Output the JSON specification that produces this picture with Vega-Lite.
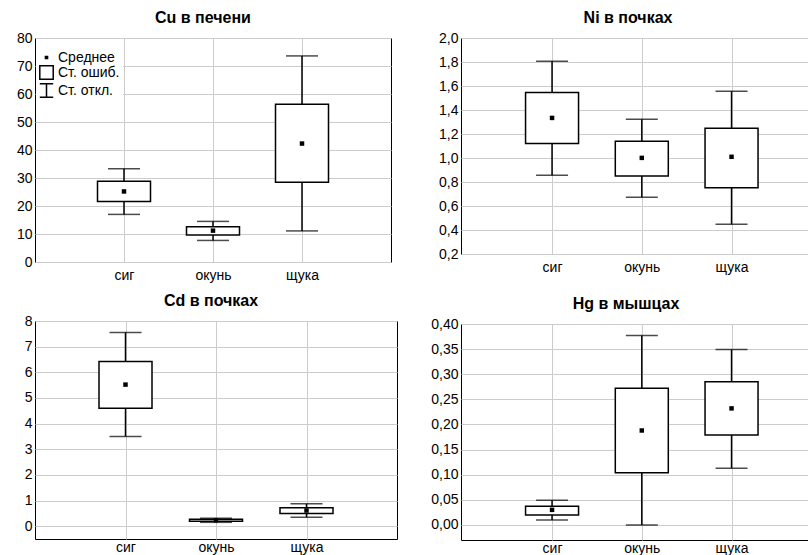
{
  "$schema": "https://vega.github.io/schema/vega-lite/v6.json",
  "padding": {"left": 15, "top": 9, "right": 0, "bottom": 0},
  "background": "white",
  "datasets": {
    "cu": [
      {"fish": "сиг", "mean": 25.2, "se_lo": 21.6, "se_hi": 28.8, "sd_lo": 17.0, "sd_hi": 33.3},
      {"fish": "окунь", "mean": 11.2, "se_lo": 9.6, "se_hi": 12.6, "sd_lo": 7.7, "sd_hi": 14.5},
      {"fish": "щука", "mean": 42.3, "se_lo": 28.5, "se_hi": 56.3, "sd_lo": 11.1, "sd_hi": 73.6}
    ],
    "ni": [
      {"fish": "сиг", "mean": 1.334, "se_lo": 1.121, "se_hi": 1.545, "sd_lo": 0.857, "sd_hi": 1.806},
      {"fish": "окунь", "mean": 1.001, "se_lo": 0.851, "se_hi": 1.14, "sd_lo": 0.672, "sd_hi": 1.323},
      {"fish": "щука", "mean": 1.01, "se_lo": 0.752, "se_hi": 1.248, "sd_lo": 0.447, "sd_hi": 1.556}
    ],
    "cd": [
      {"fish": "сиг", "mean": 5.52, "se_lo": 4.6, "se_hi": 6.42, "sd_lo": 3.5, "sd_hi": 7.55},
      {"fish": "окунь", "mean": 0.23, "se_lo": 0.19, "se_hi": 0.27, "sd_lo": 0.15, "sd_hi": 0.31},
      {"fish": "щука", "mean": 0.61, "se_lo": 0.49, "se_hi": 0.72, "sd_lo": 0.35, "sd_hi": 0.87}
    ],
    "hg": [
      {"fish": "сиг", "mean": 0.03, "se_lo": 0.02, "se_hi": 0.037, "sd_lo": 0.01, "sd_hi": 0.049},
      {"fish": "окунь", "mean": 0.188, "se_lo": 0.104, "se_hi": 0.272, "sd_lo": 0.0, "sd_hi": 0.377},
      {"fish": "щука", "mean": 0.232, "se_lo": 0.179, "se_hi": 0.285, "sd_lo": 0.113, "sd_hi": 0.349}
    ],
    "legend": [
      {"stat": "Среднее"},
      {"stat": "Ст. ошиб."},
      {"stat": "Ст. откл."}
    ]
  },
  "resolve": {"scale": {"shape": "independent", "fill": "independent", "stroke": "independent"}, "legend": {"shape": "independent", "fill": "independent", "stroke": "independent"}},
  "spacing": 32,
  "hconcat": [
    {
      "spacing": 9,
      "resolve": {"scale": {"shape": "independent", "fill": "independent", "stroke": "independent"}, "legend": {"shape": "independent", "fill": "independent", "stroke": "independent"}},
      "vconcat": [
        {
          "title": {"text": "Cu в печени", "dx": -10},
          "width": 356,
          "height": 224,
          "data": {"name": "cu"},
          "encoding": {
            "x": {"field": "fish", "type": "nominal", "title": null,
                  "scale": {"type": "point", "domain": ["сиг", "окунь", "щука"], "padding": 1},
                  "axis": {"labelPadding": 6, "labelAngle": 0}}
          },
          "layer": [
            {"mark": {"type": "rule", "color": "black", "strokeWidth": 1.5},
             "encoding": {"y": {"field": "sd_lo", "type": "quantitative", "title": null,
                                "scale": {"domain": [0, 80], "nice": false, "zero": false},
                                "axis": {"values": [0, 10, 20, 30, 40, 50, 60, 70, 80], "labelOverlap": false}},
                          "y2": {"field": "sd_hi"}}},
            {"mark": {"type": "tick", "color": "black", "size": 32, "thickness": 1.5},
             "encoding": {"y": {"field": "sd_lo", "type": "quantitative", "title": null, "scale": {"domain": [0, 80], "nice": false, "zero": false},
                                "axis": {"values": [0, 10, 20, 30, 40, 50, 60, 70, 80], "labelOverlap": false}}}},
            {"mark": {"type": "tick", "color": "black", "size": 32, "thickness": 1.5},
             "encoding": {"y": {"field": "sd_hi", "type": "quantitative", "title": null, "scale": {"domain": [0, 80], "nice": false, "zero": false},
                                "axis": {"values": [0, 10, 20, 30, 40, 50, 60, 70, 80], "labelOverlap": false}}}},
            {"mark": {"type": "bar", "width": 53, "fill": "white", "stroke": "black", "strokeWidth": 1.5},
             "encoding": {"y": {"field": "se_lo", "type": "quantitative", "title": null, "scale": {"domain": [0, 80], "nice": false, "zero": false},
                                "axis": {"values": [0, 10, 20, 30, 40, 50, 60, 70, 80], "labelOverlap": false}},
                          "y2": {"field": "se_hi"}}},
            {"mark": {"type": "square", "size": 20, "color": "black", "opacity": 1},
             "encoding": {"y": {"field": "mean", "type": "quantitative", "title": null, "scale": {"domain": [0, 80], "nice": false, "zero": false},
                                "axis": {"values": [0, 10, 20, 30, 40, 50, 60, 70, 80], "labelOverlap": false}}}},
            {"data": {"name": "legend"},
             "mark": {"type": "point", "opacity": 0, "filled": false, "strokeWidth": 1.5},
             "encoding": {
               "x": {"value": 0},
               "y": {"value": 0},
               "shape": {"field": "stat", "type": "nominal",
                         "scale": {"domain": ["Среднее", "Ст. ошиб.", "Ст. откл."],
                                   "range": ["M-0.16,-0.16H0.16V0.16H-0.16Z", "M-1,-1H1V1H-1Z", "M-1,-1H1M0,-1V1M-1,1H1"]},
                         "legend": {"title": null, "orient": "none", "legendX": 1, "legendY": 9, "padding": 3,
                                    "fillColor": "white", "symbolSize": 180, "symbolStrokeWidth": 1.5, "symbolOpacity": 1,
                                    "labelFontSize": 14, "labelFont": "Liberation Sans", "labelColor": "black",
                                    "labelOffset": 4, "rowPadding": -3}},
               "fill": {"field": "stat", "type": "nominal",
                        "scale": {"domain": ["Среднее", "Ст. ошиб.", "Ст. откл."], "range": ["black", "white", "white"]},
                        "legend": {"title": null, "orient": "none", "legendX": 1, "legendY": 9, "padding": 3,
                                   "fillColor": "white", "symbolSize": 180, "symbolStrokeWidth": 1.5, "symbolOpacity": 1,
                                   "labelFontSize": 14, "labelFont": "Liberation Sans", "labelColor": "black",
                                   "labelOffset": 4, "rowPadding": -3}},
               "stroke": {"field": "stat", "type": "nominal",
                          "scale": {"domain": ["Среднее", "Ст. ошиб.", "Ст. откл."], "range": ["black", "black", "black"]},
                          "legend": {"title": null, "orient": "none", "legendX": 1, "legendY": 9, "padding": 3,
                                     "fillColor": "white", "symbolSize": 180, "symbolStrokeWidth": 1.5, "symbolOpacity": 1,
                                     "labelFontSize": 14, "labelFont": "Liberation Sans", "labelColor": "black",
                                     "labelOffset": 4, "rowPadding": -3}}
             }}
          ]
        },
        {
          "title": {"text": "Cd в почках", "dx": -5},
          "width": 362,
          "height": 218,
          "data": {"name": "cd"},
          "encoding": {
            "x": {"field": "fish", "type": "nominal", "title": null,
                  "scale": {"type": "point", "domain": ["сиг", "окунь", "щука"], "padding": 1},
                  "axis": {"labelPadding": 1.5, "labelAngle": 0}}
          },
          "layer": [
            {"mark": {"type": "rule", "color": "black", "strokeWidth": 1.5},
             "encoding": {"y": {"field": "sd_lo", "type": "quantitative", "title": null,
                                "scale": {"domain": [-0.5, 8], "nice": false, "zero": false},
                                "axis": {"values": [0, 1, 2, 3, 4, 5, 6, 7, 8], "labelOverlap": false}},
                          "y2": {"field": "sd_hi"}}},
            {"mark": {"type": "tick", "color": "black", "size": 32, "thickness": 1.5},
             "encoding": {"y": {"field": "sd_lo", "type": "quantitative", "title": null, "scale": {"domain": [-0.5, 8], "nice": false, "zero": false},
                                "axis": {"values": [0, 1, 2, 3, 4, 5, 6, 7, 8], "labelOverlap": false}}}},
            {"mark": {"type": "tick", "color": "black", "size": 32, "thickness": 1.5},
             "encoding": {"y": {"field": "sd_hi", "type": "quantitative", "title": null, "scale": {"domain": [-0.5, 8], "nice": false, "zero": false},
                                "axis": {"values": [0, 1, 2, 3, 4, 5, 6, 7, 8], "labelOverlap": false}}}},
            {"mark": {"type": "bar", "width": 53, "fill": "white", "stroke": "black", "strokeWidth": 1.5},
             "encoding": {"y": {"field": "se_lo", "type": "quantitative", "title": null, "scale": {"domain": [-0.5, 8], "nice": false, "zero": false},
                                "axis": {"values": [0, 1, 2, 3, 4, 5, 6, 7, 8], "labelOverlap": false}},
                          "y2": {"field": "se_hi"}}},
            {"mark": {"type": "square", "size": 20, "color": "black", "opacity": 1},
             "encoding": {"y": {"field": "mean", "type": "quantitative", "title": null, "scale": {"domain": [-0.5, 8], "nice": false, "zero": false},
                                "axis": {"values": [0, 1, 2, 3, 4, 5, 6, 7, 8], "labelOverlap": false}}}}
          ]
        }
      ]
    },
    {
      "spacing": 20,
      "vconcat": [
        {
          "title": {"text": "Ni в почках", "dx": -8},
          "width": 350,
          "height": 216,
          "data": {"name": "ni"},
          "encoding": {
            "x": {"field": "fish", "type": "nominal", "title": null,
                  "scale": {"type": "point", "domain": ["сиг", "окунь", "щука"], "padding": 0.95, "align": 0.534},
                  "axis": {"labelPadding": 6, "labelAngle": 0}}
          },
          "layer": [
            {"mark": {"type": "rule", "color": "black", "strokeWidth": 1.5},
             "encoding": {"y": {"field": "sd_lo", "type": "quantitative", "title": null,
                                "scale": {"domain": [0.2, 2.0], "nice": false, "zero": false},
                                "axis": {"values": [0.2, 0.4, 0.6, 0.8, 1.0, 1.2, 1.4, 1.6, 1.8, 2.0], "labelOverlap": false,
                                         "labelExpr": "replace(format(datum.value, '.1f'), '.', ',')"}},
                          "y2": {"field": "sd_hi"}}},
            {"mark": {"type": "tick", "color": "black", "size": 32, "thickness": 1.5},
             "encoding": {"y": {"field": "sd_lo", "type": "quantitative", "title": null, "scale": {"domain": [0.2, 2.0], "nice": false, "zero": false},
                                "axis": {"values": [0.2, 0.4, 0.6, 0.8, 1.0, 1.2, 1.4, 1.6, 1.8, 2.0], "labelOverlap": false,
                                         "labelExpr": "replace(format(datum.value, '.1f'), '.', ',')"}}}},
            {"mark": {"type": "tick", "color": "black", "size": 32, "thickness": 1.5},
             "encoding": {"y": {"field": "sd_hi", "type": "quantitative", "title": null, "scale": {"domain": [0.2, 2.0], "nice": false, "zero": false},
                                "axis": {"values": [0.2, 0.4, 0.6, 0.8, 1.0, 1.2, 1.4, 1.6, 1.8, 2.0], "labelOverlap": false,
                                         "labelExpr": "replace(format(datum.value, '.1f'), '.', ',')"}}}},
            {"mark": {"type": "bar", "width": 53, "fill": "white", "stroke": "black", "strokeWidth": 1.5},
             "encoding": {"y": {"field": "se_lo", "type": "quantitative", "title": null, "scale": {"domain": [0.2, 2.0], "nice": false, "zero": false},
                                "axis": {"values": [0.2, 0.4, 0.6, 0.8, 1.0, 1.2, 1.4, 1.6, 1.8, 2.0], "labelOverlap": false,
                                         "labelExpr": "replace(format(datum.value, '.1f'), '.', ',')"}},
                          "y2": {"field": "se_hi"}}},
            {"mark": {"type": "square", "size": 20, "color": "black", "opacity": 1},
             "encoding": {"y": {"field": "mean", "type": "quantitative", "title": null, "scale": {"domain": [0.2, 2.0], "nice": false, "zero": false},
                                "axis": {"values": [0.2, 0.4, 0.6, 0.8, 1.0, 1.2, 1.4, 1.6, 1.8, 2.0], "labelOverlap": false,
                                         "labelExpr": "replace(format(datum.value, '.1f'), '.', ',')"}}}}
          ]
        },
        {
          "title": {"text": "Hg в мышцах", "dx": -10},
          "width": 350,
          "height": 216,
          "data": {"name": "hg"},
          "encoding": {
            "x": {"field": "fish", "type": "nominal", "title": null,
                  "scale": {"type": "point", "domain": ["сиг", "окунь", "щука"], "padding": 0.95, "align": 0.534},
                  "axis": {"labelPadding": 1.5, "labelAngle": 0}}
          },
          "layer": [
            {"mark": {"type": "rule", "color": "black", "strokeWidth": 1.5},
             "encoding": {"y": {"field": "sd_lo", "type": "quantitative", "title": null,
                                "scale": {"domain": [-0.03, 0.4], "nice": false, "zero": false},
                                "axis": {"values": [0, 0.05, 0.1, 0.15, 0.2, 0.25, 0.3, 0.35, 0.4], "labelOverlap": false,
                                         "labelExpr": "replace(format(datum.value, '.2f'), '.', ',')"}},
                          "y2": {"field": "sd_hi"}}},
            {"mark": {"type": "tick", "color": "black", "size": 32, "thickness": 1.5},
             "encoding": {"y": {"field": "sd_lo", "type": "quantitative", "title": null, "scale": {"domain": [-0.03, 0.4], "nice": false, "zero": false},
                                "axis": {"values": [0, 0.05, 0.1, 0.15, 0.2, 0.25, 0.3, 0.35, 0.4], "labelOverlap": false,
                                         "labelExpr": "replace(format(datum.value, '.2f'), '.', ',')"}}}},
            {"mark": {"type": "tick", "color": "black", "size": 32, "thickness": 1.5},
             "encoding": {"y": {"field": "sd_hi", "type": "quantitative", "title": null, "scale": {"domain": [-0.03, 0.4], "nice": false, "zero": false},
                                "axis": {"values": [0, 0.05, 0.1, 0.15, 0.2, 0.25, 0.3, 0.35, 0.4], "labelOverlap": false,
                                         "labelExpr": "replace(format(datum.value, '.2f'), '.', ',')"}}}},
            {"mark": {"type": "bar", "width": 53, "fill": "white", "stroke": "black", "strokeWidth": 1.5},
             "encoding": {"y": {"field": "se_lo", "type": "quantitative", "title": null, "scale": {"domain": [-0.03, 0.4], "nice": false, "zero": false},
                                "axis": {"values": [0, 0.05, 0.1, 0.15, 0.2, 0.25, 0.3, 0.35, 0.4], "labelOverlap": false,
                                         "labelExpr": "replace(format(datum.value, '.2f'), '.', ',')"}},
                          "y2": {"field": "se_hi"}}},
            {"mark": {"type": "square", "size": 20, "color": "black", "opacity": 1},
             "encoding": {"y": {"field": "mean", "type": "quantitative", "title": null, "scale": {"domain": [-0.03, 0.4], "nice": false, "zero": false},
                                "axis": {"values": [0, 0.05, 0.1, 0.15, 0.2, 0.25, 0.3, 0.35, 0.4], "labelOverlap": false,
                                         "labelExpr": "replace(format(datum.value, '.2f'), '.', ',')"}}}}
          ]
        }
      ]
    }
  ],
  "config": {
    "font": "Liberation Sans",
    "view": {"stroke": "black", "strokeWidth": 1},
    "axis": {
      "labelFont": "Liberation Sans",
      "labelFontSize": 14,
      "labelColor": "black",
      "domain": false,
      "ticks": false,
      "labelPadding": 3,
      "grid": true,
      "gridColor": "#cccccc",
      "gridWidth": 1
    },
    "title": {
      "font": "Liberation Sans",
      "fontSize": 16,
      "fontWeight": "bold",
      "color": "black",
      "anchor": "middle",
      "frame": "group",
      "baseline": "alphabetic",
      "offset": 5
    }
  }
}
